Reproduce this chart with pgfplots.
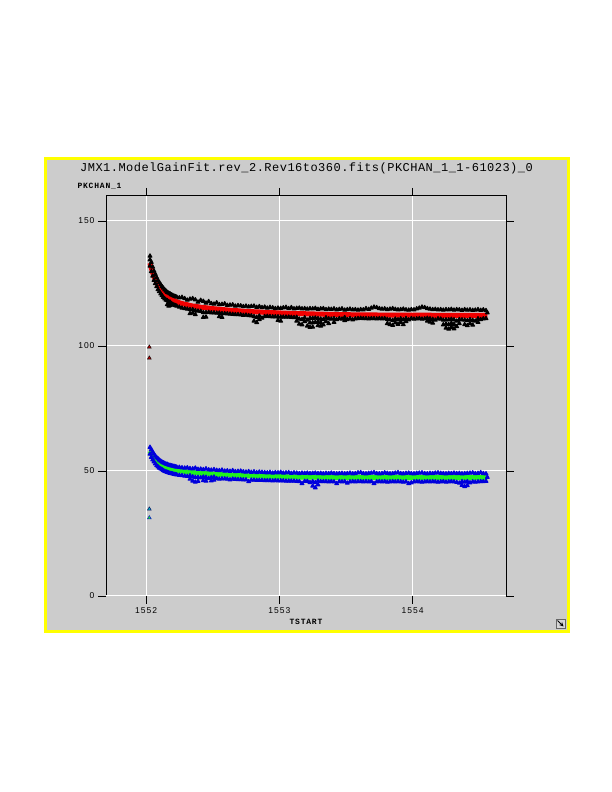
\documentclass[border=0pt]{standalone}
\usepackage{fontspec}
\setmainfont{Liberation Sans}
\newfontfamily\titlefont[LetterSpace=4]{Liberation Mono}
\newfontfamily\labfont[LetterSpace=10]{Liberation Mono}
\newfontfamily\tickfont[LetterSpace=12]{Liberation Sans}
\usepackage{pgfplots}
\pgfplotsset{compat=1.18}
\definecolor{panel}{RGB}{204,204,204}
\definecolor{pyellow}{RGB}{255,255,0}
\definecolor{fitred}{RGB}{240,0,0}
\definecolor{fitgreen}{RGB}{30,240,30}
\definecolor{datblue}{RGB}{0,0,220}
\begin{document}
\begin{tikzpicture}
\fill[white] (0pt,0pt) rectangle (612pt,792pt);
\draw[pyellow, line width=2.5pt, fill=panel] (45.5pt,160.5pt) rectangle (568.5pt,633.5pt);
\node[font=\titlefont\fontsize{12}{14}\selectfont] at (306.5pt,624pt) {JMX1.ModelGainFit.rev\_2.Rev16to360.fits(PKCHAN\_1\_1-61023)\_0};
\node[font=\labfont\bfseries\fontsize{8}{9}\selectfont, anchor=west] at (74pt,606pt) {PKCHAN\_1};
\node[font=\labfont\bfseries\fontsize{8}{9}\selectfont] at (306pt,170pt) {TSTART};
\begin{axis}[
  at={(106pt,196pt)}, anchor=south west,
  scale only axis, width=400pt, height=400pt,
  xmin=1551.7, xmax=1554.7, ymin=0, ymax=160,
  xtick={1552,1553,1554}, ytick={0,50,100,150},
  grid=major, grid style={white, line width=1pt},
  axis line style={black, line width=1pt},
  tick style={black, line width=0.8pt},
  major tick length=8pt, tick align=outside,
  /pgf/number format/1000 sep={},
  /pgf/number format/assume math mode=true,
  ticklabel style={font=\tickfont\fontsize{8.5}{10}\selectfont},
  axis background/.style={fill=panel},
]
% black raw data
\addplot[only marks, mark=triangle*, mark size=2.2pt, mark options={draw=black, fill=black, line width=1pt, line join=round}] coordinates {
(1552.03,136.0)(1552.03,132.0)(1552.03,134.5)
(1552.04,133.5)(1552.04,129.8)
(1552.05,131.6)(1552.05,128.0)
(1552.06,130.0)(1552.06,126.3)
(1552.07,128.7)(1552.07,125.0)
(1552.08,127.4)(1552.08,123.8)
(1552.09,126.3)(1552.09,122.6)
(1552.10,125.4)(1552.10,121.8)
(1552.11,124.6)(1552.11,120.9)
(1552.12,123.8)(1552.12,120.2)
(1552.13,123.2)(1552.13,119.5)
(1552.14,122.5)(1552.14,118.9)
(1552.15,122.0)(1552.15,118.4)
(1552.16,121.5)(1552.16,116.6)(1552.16,118.2)
(1552.17,121.2)(1552.17,116.0)(1552.17,117.7)
(1552.18,120.9)(1552.18,116.2)(1552.18,117.6)
(1552.19,120.5)(1552.19,117.0)
(1552.20,120.3)(1552.20,116.7)
(1552.21,120.0)(1552.21,116.4)
(1552.22,119.8)(1552.22,116.2)
(1552.23,119.6)(1552.23,116.0)
(1552.25,119.3)(1552.25,115.6)
(1552.27,119.5)(1552.27,115.2)
(1552.29,119.0)(1552.29,115.0)
(1552.31,118.4)(1552.31,114.8)
(1552.33,118.8)(1552.33,113.0)(1552.33,114.6)
(1552.35,119.0)(1552.35,113.2)(1552.35,114.6)
(1552.37,118.5)(1552.37,112.6)(1552.37,114.2)
(1552.39,117.6)(1552.39,114.0)
(1552.41,118.3)(1552.41,113.9)
(1552.43,117.9)(1552.43,111.5)(1552.43,113.4)
(1552.45,117.2)(1552.45,111.6)(1552.45,113.4)
(1552.47,117.8)(1552.47,113.5)
(1552.49,117.0)(1552.49,113.3)
(1552.51,116.8)(1552.51,113.3)
(1552.53,117.3)(1552.53,113.2)
(1552.55,116.6)(1552.55,111.8)(1552.55,113.2)
(1552.57,116.7)(1552.57,111.5)(1552.57,113.0)
(1552.59,116.9)(1552.59,113.0)
(1552.61,116.3)(1552.61,112.9)
(1552.63,116.4)(1552.63,112.8)
(1552.65,116.5)(1552.65,112.7)
(1552.67,116.0)(1552.67,112.6)
(1552.69,116.2)(1552.69,112.6)
(1552.71,116.1)(1552.71,112.5)
(1552.73,115.8)(1552.73,112.3)
(1552.75,116.0)(1552.75,112.4)
(1552.77,115.7)(1552.77,112.2)
(1552.79,115.9)(1552.79,112.1)
(1552.81,116.0)(1552.81,110.0)(1552.81,111.8)
(1552.83,115.5)(1552.83,109.4)(1552.83,111.5)
(1552.85,115.8)(1552.85,110.6)(1552.85,112.0)
(1552.87,115.4)(1552.87,111.2)
(1552.89,115.6)(1552.89,111.8)
(1552.91,115.2)(1552.91,111.9)
(1552.93,115.5)(1552.93,111.8)
(1552.95,115.3)(1552.95,111.7)
(1552.97,115.0)(1552.97,111.7)
(1552.99,115.2)(1552.99,110.3)(1552.99,111.7)
(1553.01,115.1)(1553.01,110.0)(1553.01,111.6)
(1553.03,115.3)(1553.03,111.6)
(1553.05,115.5)(1553.05,111.6)
(1553.07,115.0)(1553.07,111.6)
(1553.09,115.4)(1553.09,111.5)
(1553.11,114.9)(1553.11,111.4)
(1553.13,115.1)(1553.13,110.0)(1553.13,111.5)
(1553.15,115.2)(1553.15,108.8)(1553.15,110.8)
(1553.17,114.9)(1553.17,108.5)(1553.17,110.6)
(1553.19,115.0)(1553.19,109.8)(1553.19,111.3)
(1553.21,114.8)(1553.21,108.0)(1553.21,110.4)
(1553.23,115.0)(1553.23,107.5)(1553.23,111.1)(1553.23,109.3)
(1553.25,114.9)(1553.25,107.6)(1553.25,111.1)(1553.25,109.3)
(1553.27,115.1)(1553.27,109.5)(1553.27,111.2)
(1553.29,114.7)(1553.29,108.2)(1553.29,111.0)(1553.29,109.6)
(1553.31,114.9)(1553.31,108.0)(1553.31,110.8)(1553.31,109.4)
(1553.33,115.0)(1553.33,108.5)(1553.33,110.6)
(1553.35,114.6)(1553.35,109.8)(1553.35,111.3)
(1553.37,114.8)(1553.37,109.0)(1553.37,110.9)
(1553.39,114.7)(1553.39,110.8)
(1553.41,114.9)(1553.41,109.5)(1553.41,111.0)
(1553.43,114.5)(1553.43,110.6)
(1553.45,114.7)(1553.45,111.0)
(1553.47,114.9)(1553.47,110.8)
(1553.49,114.4)(1553.49,110.2)(1553.49,111.4)
(1553.51,114.6)(1553.51,110.6)
(1553.53,114.8)(1553.53,111.0)
(1553.55,114.5)(1553.55,110.5)
(1553.57,114.6)(1553.57,110.9)
(1553.59,114.4)(1553.59,111.0)
(1553.61,114.6)(1553.61,111.1)
(1553.63,114.5)(1553.63,111.0)
(1553.65,115.0)(1553.65,111.0)
(1553.67,114.7)(1553.67,110.9)
(1553.69,115.2)(1553.69,111.0)
(1553.71,115.6)(1553.71,111.0)
(1553.73,115.4)(1553.73,110.9)
(1553.75,115.0)(1553.75,111.0)
(1553.77,114.8)(1553.77,110.9)
(1553.79,114.9)(1553.79,111.0)
(1553.81,114.6)(1553.81,109.0)(1553.81,110.7)
(1553.83,114.8)(1553.83,108.6)(1553.83,110.5)
(1553.85,115.0)(1553.85,108.3)(1553.85,110.3)
(1553.87,114.7)(1553.87,109.3)(1553.87,110.8)
(1553.89,114.5)(1553.89,108.7)(1553.89,110.5)
(1553.91,114.6)(1553.91,109.5)(1553.91,110.9)
(1553.93,114.8)(1553.93,108.6)(1553.93,110.5)
(1553.95,114.5)(1553.95,109.8)(1553.95,111.0)
(1553.97,114.4)(1553.97,110.5)
(1553.99,114.6)(1553.99,111.0)
(1554.01,114.5)(1554.01,110.8)
(1554.03,114.9)(1554.03,110.9)
(1554.05,115.2)(1554.05,111.0)
(1554.07,115.6)(1554.07,110.8)
(1554.09,115.4)(1554.09,110.9)
(1554.11,115.0)(1554.11,110.0)(1554.11,111.1)
(1554.13,114.8)(1554.13,109.6)(1554.13,110.9)
(1554.15,114.6)(1554.15,109.2)(1554.15,110.7)
(1554.17,114.7)(1554.17,110.4)
(1554.19,114.5)(1554.19,110.9)
(1554.21,114.6)(1554.21,110.8)
(1554.23,114.4)(1554.23,108.5)(1554.23,110.4)
(1554.25,114.6)(1554.25,107.2)(1554.25,110.5)(1554.25,108.8)
(1554.27,114.5)(1554.27,106.8)(1554.27,110.5)(1554.27,108.6)
(1554.29,114.7)(1554.29,107.5)(1554.29,110.7)(1554.29,109.1)
(1554.31,114.4)(1554.31,106.9)(1554.31,110.5)(1554.31,108.7)
(1554.33,114.6)(1554.33,107.8)(1554.33,110.0)
(1554.35,114.5)(1554.35,109.0)(1554.35,110.6)
(1554.37,114.3)(1554.37,110.5)
(1554.39,114.6)(1554.39,108.6)(1554.39,110.4)
(1554.41,114.4)(1554.41,108.2)(1554.41,110.2)
(1554.43,114.5)(1554.43,109.0)(1554.43,110.6)
(1554.45,114.3)(1554.45,108.4)(1554.45,110.3)
(1554.47,114.4)(1554.47,110.0)
(1554.49,114.6)(1554.49,109.5)(1554.49,110.9)
(1554.51,114.3)(1554.51,110.6)
(1554.53,114.5)(1554.53,110.9)
(1554.55,114.2)(1554.55,111.0)
(1554.56,113.3)
};
% blue raw data
\addplot[only marks, mark=triangle*, mark size=2.2pt, mark options={draw=datblue, fill=datblue, line width=1pt, line join=round}] coordinates {
(1552.03,59.5)(1552.03,56.8)
(1552.04,58.6)(1552.04,55.5)
(1552.05,57.6)(1552.05,54.5)
(1552.06,56.8)(1552.06,53.7)
(1552.07,56.0)(1552.07,52.9)
(1552.08,55.4)(1552.08,52.2)
(1552.09,54.9)(1552.09,51.7)
(1552.10,54.4)(1552.10,51.2)
(1552.11,54.0)(1552.11,50.9)
(1552.12,53.6)(1552.12,50.6)
(1552.13,53.3)(1552.13,50.2)
(1552.14,53.1)(1552.14,49.9)
(1552.15,52.8)(1552.15,49.7)
(1552.16,52.7)(1552.16,49.5)
(1552.17,52.4)(1552.17,49.3)
(1552.18,52.3)(1552.18,49.1)
(1552.19,52.1)(1552.19,49.0)
(1552.20,52.0)(1552.20,48.9)
(1552.21,51.9)(1552.21,48.7)
(1552.22,51.7)(1552.22,48.6)
(1552.23,51.6)(1552.23,48.5)
(1552.25,51.5)(1552.25,48.3)
(1552.27,51.3)(1552.27,48.2)
(1552.29,51.2)(1552.29,48.0)
(1552.31,51.3)(1552.31,47.9)
(1552.33,51.0)(1552.33,46.8)(1552.33,48.1)
(1552.35,50.9)(1552.35,46.0)(1552.35,47.7)
(1552.37,51.2)(1552.37,45.6)(1552.37,47.5)
(1552.39,50.7)(1552.39,45.9)(1552.39,47.5)
(1552.41,50.8)(1552.41,47.3)
(1552.43,50.6)(1552.43,46.2)(1552.43,47.6)
(1552.45,50.9)(1552.45,46.0)(1552.45,47.5)
(1552.47,50.5)(1552.47,47.1)
(1552.49,50.4)(1552.49,46.1)(1552.49,47.4)
(1552.51,50.6)(1552.51,46.4)(1552.51,47.6)
(1552.53,50.3)(1552.53,47.0)
(1552.55,50.2)(1552.55,46.8)
(1552.57,50.4)(1552.57,46.9)
(1552.59,50.0)(1552.59,46.9)
(1552.61,50.1)(1552.61,46.8)
(1552.63,49.9)(1552.63,46.5)
(1552.65,50.2)(1552.65,46.8)
(1552.67,49.8)(1552.67,46.7)
(1552.69,49.9)(1552.69,46.6)
(1552.71,50.0)(1552.71,46.6)
(1552.73,49.7)(1552.73,46.5)
(1552.75,49.6)(1552.75,46.5)
(1552.77,49.8)(1552.77,45.8)
(1552.79,49.5)(1552.79,46.4)
(1552.81,49.7)(1552.81,46.4)
(1552.83,49.4)(1552.83,46.3)
(1552.85,49.6)(1552.85,46.3)
(1552.87,49.5)(1552.87,46.3)
(1552.89,49.4)(1552.89,46.2)
(1552.91,49.3)(1552.91,46.2)
(1552.93,49.5)(1552.93,46.2)
(1552.95,49.2)(1552.95,46.1)
(1552.97,49.4)(1552.97,46.2)
(1552.99,49.3)(1552.99,46.1)
(1553.01,49.5)(1553.01,46.1)
(1553.03,49.2)(1553.03,46.1)
(1553.05,49.3)(1553.05,46.0)
(1553.07,49.4)(1553.07,46.0)
(1553.09,49.1)(1553.09,46.0)
(1553.11,49.3)(1553.11,46.0)
(1553.13,49.2)(1553.13,45.9)
(1553.15,49.0)(1553.15,45.8)
(1553.17,49.2)(1553.17,45.0)
(1553.19,49.1)(1553.19,45.9)
(1553.21,49.2)(1553.21,45.9)
(1553.23,49.0)(1553.23,45.4)
(1553.25,49.1)(1553.25,44.0)(1553.25,45.8)
(1553.27,49.2)(1553.27,43.3)(1553.27,45.4)
(1553.29,49.0)(1553.29,44.5)(1553.29,46.0)
(1553.31,49.1)(1553.31,45.8)
(1553.33,48.9)(1553.33,45.8)
(1553.35,49.1)(1553.35,45.8)
(1553.37,49.0)(1553.37,45.7)
(1553.39,49.2)(1553.39,45.8)
(1553.41,49.0)(1553.41,45.7)
(1553.43,48.9)(1553.43,45.0)
(1553.45,49.0)(1553.45,45.8)
(1553.47,49.1)(1553.47,45.7)
(1553.49,48.9)(1553.49,45.8)
(1553.51,49.0)(1553.51,45.2)
(1553.53,49.2)(1553.53,45.7)
(1553.55,48.9)(1553.55,45.8)
(1553.57,49.0)(1553.57,45.7)
(1553.59,49.3)(1553.59,45.8)
(1553.61,49.4)(1553.61,45.8)
(1553.63,49.0)(1553.63,45.7)
(1553.65,48.9)(1553.65,45.8)
(1553.67,49.1)(1553.67,45.7)
(1553.69,49.2)(1553.69,45.8)
(1553.71,49.4)(1553.71,45.0)
(1553.73,49.0)(1553.73,45.7)
(1553.75,48.9)(1553.75,45.8)
(1553.77,49.0)(1553.77,45.7)
(1553.79,49.3)(1553.79,45.8)
(1553.81,49.1)(1553.81,45.6)
(1553.83,48.9)(1553.83,45.7)
(1553.85,49.0)(1553.85,45.8)
(1553.87,49.2)(1553.87,45.7)
(1553.89,49.4)(1553.89,45.8)
(1553.91,49.0)(1553.91,45.7)
(1553.93,48.9)(1553.93,45.6)
(1553.95,49.1)(1553.95,45.7)
(1553.97,49.2)(1553.97,45.0)
(1553.99,49.0)(1553.99,45.3)
(1554.01,48.9)(1554.01,45.7)
(1554.03,49.1)(1554.03,45.8)
(1554.05,49.2)(1554.05,45.7)
(1554.07,49.3)(1554.07,45.6)
(1554.09,49.0)(1554.09,45.7)
(1554.11,48.9)(1554.11,45.8)
(1554.13,49.1)(1554.13,45.7)
(1554.15,49.0)(1554.15,45.8)
(1554.17,49.2)(1554.17,45.7)
(1554.19,49.3)(1554.19,45.6)
(1554.21,49.1)(1554.21,45.7)
(1554.23,49.0)(1554.23,45.8)
(1554.25,48.9)(1554.25,45.6)
(1554.27,49.1)(1554.27,45.7)
(1554.29,49.0)(1554.29,45.8)
(1554.31,49.2)(1554.31,45.7)
(1554.33,49.0)(1554.33,45.5)
(1554.35,49.1)(1554.35,45.2)
(1554.37,48.9)(1554.37,44.3)(1554.37,45.8)
(1554.39,49.0)(1554.39,43.8)(1554.39,45.6)
(1554.41,49.1)(1554.41,44.2)(1554.41,45.8)
(1554.43,49.2)(1554.43,45.3)
(1554.45,49.3)(1554.45,45.7)
(1554.47,49.0)(1554.47,45.6)
(1554.49,49.1)(1554.49,45.7)
(1554.51,49.4)(1554.51,45.8)
(1554.53,49.0)(1554.53,45.8)
(1554.55,48.9)(1554.55,45.9)
(1554.56,47.5)
};
% red fit
\addplot[fitred, line width=5pt, line join=round] coordinates {
(1552.03,133.2)(1552.04,131.2)(1552.05,129.4)(1552.06,127.9)(1552.07,126.6)
(1552.08,125.4)(1552.09,124.35)(1552.10,123.4)(1552.11,122.6)(1552.12,121.9)
(1552.13,121.3)(1552.14,120.7)(1552.15,120.2)(1552.16,119.8)(1552.17,119.4)
(1552.18,119.0)(1552.19,118.7)(1552.20,118.4)(1552.21,118.15)(1552.22,117.9)
(1552.23,117.7)(1552.25,117.3)(1552.27,117.0)(1552.29,116.7)(1552.31,116.5)
(1552.33,116.2)(1552.35,116.0)(1552.37,115.9)(1552.39,115.7)(1552.41,115.5)
(1552.43,115.4)(1552.45,115.3)(1552.49,115.0)(1552.53,114.8)(1552.57,114.6)
(1552.61,114.4)(1552.65,114.2)(1552.69,114.1)(1552.73,113.9)(1552.77,113.8)
(1552.81,113.7)(1552.85,113.6)(1552.89,113.45)(1552.93,113.4)(1552.97,113.3)
(1553.01,113.2)(1553.05,113.1)(1553.13,113.0)(1553.23,112.85)(1553.33,112.7)
(1553.43,112.6)(1553.53,112.5)(1553.63,112.45)(1553.73,112.4)(1553.93,112.3)
(1554.13,112.3)(1554.33,112.25)(1554.56,112.25)
};
% green fit
\addplot[fitgreen, line width=5pt, line join=round] coordinates {
(1552.03,58.0)(1552.04,56.9)(1552.05,56.0)(1552.06,55.2)(1552.07,54.5)
(1552.08,53.9)(1552.09,53.4)(1552.10,52.9)(1552.11,52.5)(1552.12,52.2)
(1552.13,51.9)(1552.14,51.6)(1552.15,51.4)(1552.16,51.2)(1552.17,51.0)
(1552.18,50.8)(1552.19,50.7)(1552.20,50.6)(1552.21,50.4)(1552.22,50.3)
(1552.23,50.2)(1552.25,50.05)(1552.27,49.9)(1552.29,49.75)(1552.31,49.6)
(1552.33,49.5)(1552.35,49.4)(1552.37,49.3)(1552.39,49.2)(1552.41,49.1)
(1552.43,49.0)(1552.47,48.9)(1552.51,48.75)(1552.55,48.6)(1552.59,48.5)
(1552.63,48.4)(1552.67,48.3)(1552.71,48.2)(1552.75,48.1)(1552.81,48.0)
(1552.87,47.9)(1552.93,47.85)(1552.99,47.75)(1553.05,47.7)(1553.13,47.6)
(1553.23,47.55)(1553.33,47.5)(1553.43,47.45)(1553.53,47.4)(1553.73,47.4)
(1553.93,47.35)(1554.56,47.3)
};
% outliers
\addplot[only marks, mark=triangle*, mark size=2.2pt, mark options={draw=black, fill=fitred!75!black}] coordinates {(1552.025,99.6)(1552.025,95.2)};
\addplot[only marks, mark=triangle*, mark size=2.2pt, mark options={draw=black!60!datblue, fill=cyan!70!green}] coordinates {(1552.025,34.8)};
\addplot[only marks, mark=triangle*, mark size=2.2pt, mark options={draw=datblue, fill=fitgreen}] coordinates {(1552.025,31.3)};
\draw[white, line width=1pt] (axis cs:1551.7,0) -- (axis cs:1554.7,0);
\end{axis}
% resize icon
\draw[black!60, fill=panel!80!white, line width=0.6pt] (556pt,164pt) rectangle (565pt,173pt);
\draw[black, line width=0.9pt, -stealth] (557.5pt,171.5pt) -- (563.5pt,165.5pt);
\end{tikzpicture}
\end{document}
